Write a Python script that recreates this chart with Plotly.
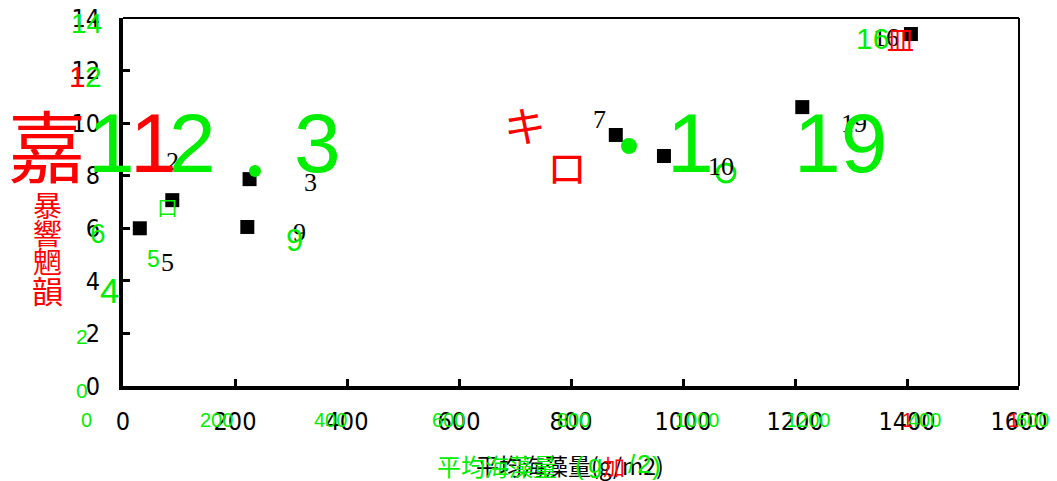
import plotly.graph_objects as go

# ---- data ----
sea_weed = [30, 88, 226, 222, 880, 966, 1213, 1407]      # 平均海藻量 (g/m2)
values = [6.0, 7.07, 7.87, 6.05, 9.55, 8.75, 10.61, 13.39]
station = ["5", "2", "3", "9", "7", "10", "19", "16"]
# label offsets in pixels (dx, dy) relative to each point
label_dx = [28, 0, 61, 52, -16, 57, 52, -25]
label_dy = [-34, 39, -3, -6, 15, -10, -16, -3]

x_ticks = [0, 200, 400, 600, 800, 1000, 1200, 1400, 1600]
y_ticks = [0, 2, 4, 6, 8, 10, 12, 14]

W, H = 1057, 481
L, R, T, B = 123, 38, 18, 95
PW, PH = W - L - R, H - T - B

def px(xp):
    return (xp - L) / PW

def py(yp):
    return (H - B - yp) / PH

GREEN = "#00ee00"
RED = "#ff0000"
SANS = "Liberation Sans, Arial, sans-serif"
CJK = "Noto Sans CJK JP, Noto Sans CJK SC, sans-serif"
NARROW = "Liberation Sans Narrow, Arial Narrow, DejaVu Sans Condensed, sans-serif"
SERIF = "Liberation Serif, Times New Roman, serif"

fig = go.Figure()
fig.add_trace(go.Scatter(
    x=sea_weed, y=values, mode="markers",
    marker=dict(symbol="square", size=14, color="black"),
    showlegend=False, hoverinfo="skip", cliponaxis=False,
))

ann = []
for xv, yv, s, dx, dy in zip(sea_weed, values, station, label_dx, label_dy):
    ann.append(dict(x=xv, y=yv, xref="x", yref="y", text=s, showarrow=False,
                    xshift=dx, yshift=dy, font=dict(family=SERIF, size=26, color="black")))

# black x title (partly covered by OCR overlay)
ann.append(dict(x=px(570), y=py(465), xref="paper", yref="paper", text="平均海藻量(g/m2)",
                showarrow=False, xanchor="center", yanchor="middle",
                font=dict(family=CJK, size=23, color="black")))

# OCR overlay text: (text, x_px, y_px, size, color, font)
overlay = [
    ("14", 86, 24, 28, GREEN, SANS),
    ("1", 77, 76, 30, RED, SANS),
    ("2", 93, 76, 30, GREEN, SANS),
    ("嘉", 47, 143, 78, RED, CJK),
    ("1", 111, 143, 84, GREEN, SANS),
    ("1", 153, 143, 84, RED, SANS),
    ("2", 192, 143, 84, GREEN, SANS),
    ("3", 317, 143, 84, GREEN, SANS),
    ("口", 167, 206, 21, GREEN, CJK),
    ("6", 98, 234, 28, GREEN, SANS),
    ("5", 153, 259, 23, GREEN, SANS),
    ("4", 109, 290, 35, GREEN, SANS),
    ("2", 82, 336, 21, GREEN, SANS),
    ("0", 82, 390, 21, GREEN, SANS),
    ("9", 294, 240, 31, GREEN, SANS),
    ("暴", 47, 204, 29, RED, CJK),
    ("響", 47, 232, 29, RED, CJK),
    ("魍", 47, 260, 29, RED, CJK),
    ("韻", 47, 289, 31, RED, CJK),
    ("キ", 525, 123, 42, RED, CJK),
    ("ロ", 567, 166, 40, RED, CJK),
    ("1", 690, 143, 84, GREEN, SANS),
    ("19", 840, 143, 84, GREEN, SANS),
    ("16", 872, 39, 30, GREEN, SANS),
    ("皿", 900, 39, 27, RED, CJK),
    ("0", 86, 420, 20, GREEN, SANS),
    ("200", 216, 420, 20, GREEN, SANS),
    ("400", 330, 420, 20, GREEN, SANS),
    ("600", 448, 420, 20, GREEN, SANS),
    ("800", 573, 420, 20, GREEN, SANS),
    ("1000", 697, 420, 20, GREEN, SANS),
    ("1200", 808, 420, 20, GREEN, SANS),
    ("1", 907, 420, 20, RED, SANS),
    ("400", 924, 420, 20, GREEN, SANS),
    ("1", 1013, 420, 20, RED, SANS),
    ("600", 1032, 420, 20, GREEN, SANS),
    ("平均海藻量", 497, 465, 24, GREEN, CJK),
    ("(", 579, 466, 26, GREEN, SANS),
    ("g", 595, 464, 26, GREEN, SANS),
    ("加", 614, 465, 22, RED, CJK),
    ("/", 632, 464, 26, GREEN, SANS),
    ("2", 644, 464, 26, GREEN, SANS),
    (")", 656, 466, 26, GREEN, SANS),
]
for t, xp, yp, sz, col, fam in overlay:
    ann.append(dict(x=px(xp), y=py(yp), xref="paper", yref="paper", text=t, showarrow=False,
                    xanchor="center", yanchor="middle", borderpad=0,
                    font=dict(family=fam, size=sz, color=col)))

shapes = [
    dict(type="line", xref="paper", yref="paper", x0=0, x1=1, y0=1, y1=1,
         line=dict(color="black", width=2)),
    dict(type="line", xref="paper", yref="paper", x0=1, x1=1, y0=0, y1=1,
         line=dict(color="black", width=2)),
]
# OCR overlay dots / ring: (x_px, y_px, radius, filled)
dots = [(255, 171, 6, True), (629, 146, 8, True), (726, 173, 9, False)]
for xp, yp, r, filled in dots:
    shapes.append(dict(type="circle", xref="paper", yref="paper",
                       xsizemode="pixel", ysizemode="pixel",
                       xanchor=px(xp), yanchor=py(yp), x0=-r, x1=r, y0=-r, y1=r,
                       fillcolor=GREEN if filled else "rgba(0,0,0,0)",
                       line=dict(color=GREEN, width=0 if filled else 3)))

fig.update_layout(
    width=W, height=H,
    margin=dict(l=L, r=R, t=T, b=B, autoexpand=False),
    paper_bgcolor="white", plot_bgcolor="white",
    annotations=ann, shapes=shapes,
    xaxis=dict(range=[0, 1600], tickvals=x_ticks, showgrid=False, zeroline=False,
               automargin=False,
               showline=True, linecolor="black", linewidth=4,
               ticks="inside", ticklen=7, tickwidth=3, tickcolor="black",
               ticklabelstandoff=10,
               tickfont=dict(family=NARROW, size=25, color="black")),
    yaxis=dict(range=[0, 14], tickvals=y_ticks, showgrid=False, zeroline=False,
               automargin=False,
               showline=True, linecolor="black", linewidth=4,
               ticks="inside", ticklen=7, tickwidth=3, tickcolor="black",
               ticklabelstandoff=14,
               tickfont=dict(family=NARROW, size=25, color="black")),
)

fig.write_html("out.html")
